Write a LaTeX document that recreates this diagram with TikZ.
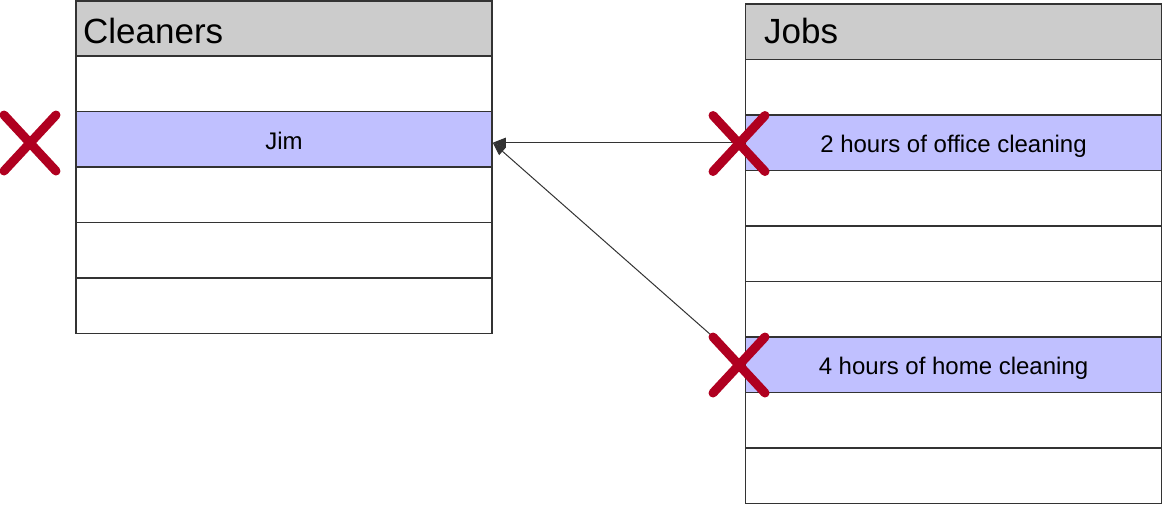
\documentclass[tikz,border=0pt]{standalone}
\usepackage{fontspec}
\setmainfont{Liberation Sans}
\usetikzlibrary{arrows.meta}
\definecolor{headgray}{RGB}{204,204,204}
\definecolor{rowblue}{RGB}{192,192,255}
\definecolor{markred}{RGB}{176,0,32}
\definecolor{edgegray}{RGB}{51,51,51}
\tikzset{
  cell/.style={draw=edgegray,line width=1.5pt,fill=white,minimum width=416pt,
    minimum height=55.5pt,inner sep=0pt,text height=20pt,text depth=0pt,
    font=\fontsize{24}{28}\selectfont},
  selcell/.style={cell,fill=rowblue},
  headcell/.style={cell,fill=headgray},
  headtext/.style={anchor=base west,inner sep=0pt,font=\fontsize{35}{40}\selectfont},
  link/.style={draw=edgegray,line width=1pt,-{Triangle[length=13pt,width=10pt]}},
  xmark/.style={draw=markred,line width=9pt,line cap=round},
}
\begin{document}
\begin{tikzpicture}[x=1pt,y=-1pt]
  \useasboundingbox (0,0) rectangle (1163,504);
  % cleaners table
  \node[headcell] (cl-head) at (284,28.75) {};
  \node[headtext] (cl-title) at (83,43) {Cleaners};
  \foreach \i/\sty/\txt in {1/cell/{},2/selcell/Jim,3/cell/{},4/cell/{},5/cell/{}}
    \node[\sty] (cl-\i) at (284,{56+55.5*(\i-0.5)}) {\txt};
  % jobs table
  \node[headcell] (job-head) at (953.5,31.5) {};
  \node[headtext] (job-title) at (764,43) {Jobs};
  \foreach \i/\sty/\txt in {1/cell/{},2/selcell/2 hours of office cleaning,3/cell/{},
      4/cell/{},5/cell/{},6/selcell/4 hours of home cleaning,7/cell/{},8/cell/{}}
    \node[\sty] (job-\i) at (953.5,{59.5+55.5*(\i-0.5)}) {\txt};
  % links
  \coordinate (jim-in) at (job-2.west -| cl-2.east);
  \draw[link] (job-2.west) -- (jim-in);
  \draw[link] (job-6.west) -- (jim-in);
  % crosses
  \foreach \cx/\cy in {30/143,739/143.5,739/365}
  {
    \draw[xmark] (\cx-26,\cy-28) -- (\cx+26,\cy+28);
    \draw[xmark] (\cx-26,\cy+28) -- (\cx+26,\cy-28);
  }
\end{tikzpicture}
\end{document}
